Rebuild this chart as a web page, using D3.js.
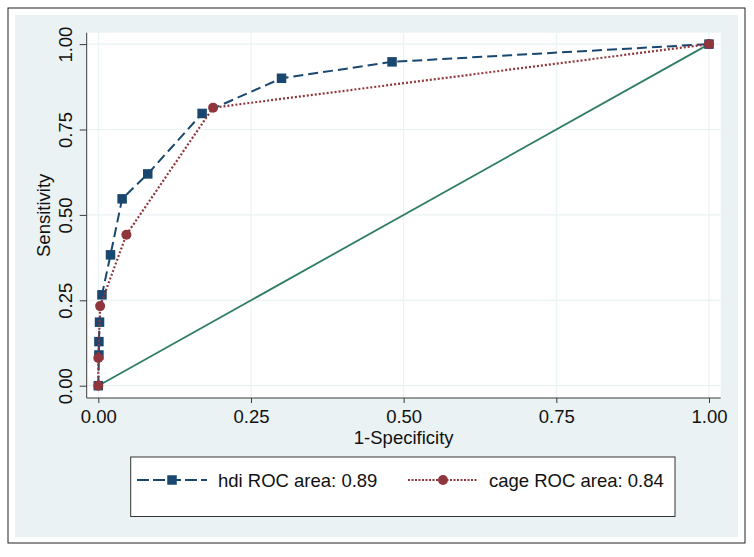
<!DOCTYPE html>
<html>
<head>
<meta charset="utf-8">
<script src="https://cdn.jsdelivr.net/npm/d3@7"></script>
<style>
  html, body { margin: 0; padding: 0; background: #ffffff; }
  svg { display: block; font-family: "Liberation Sans", Arial, sans-serif; }
</style>
</head>
<body>
<svg id="chart" width="754" height="557"></svg>
<script>
// ---- data ----
const tickValues = [0, 0.25, 0.5, 0.75, 1];
const hdiFpr  = [0, 0.001, 0.001, 0.002, 0.006, 0.020, 0.039, 0.081, 0.170, 0.300, 0.481, 1];
const hdiSens = [0, 0.090, 0.129, 0.186, 0.266, 0.383, 0.547, 0.620, 0.797, 0.900, 0.948, 1];
const cageFpr  = [0, 0, 0.003, 0.046, 0.188, 1];
const cageSens = [0, 0.081, 0.233, 0.442, 0.814, 1];
const refLine = [0, 1];
const legendLabels = ["hdi ROC area: 0.89", "cage ROC area: 0.84"];
const xTitle = "1-Specificity";
const yTitle = "Sensitivity";

// ---- style ----
const FS = 18.5;
const C = { bg: "#eaf2f3", navy: "#1a476f", maroon: "#90353b", green: "#2e7d64", axis: "#3a3a3a", grid: "#eaf2f3" };
const plot = { left: 86.7, right: 720.7, top: 32.7, bottom: 398 };

const svg = d3.select("#chart");

// outer frame
svg.append("rect").attr("x", 8).attr("y", 8).attr("width", 737).attr("height", 535)
  .attr("fill", "#ffffff").attr("stroke", "#222").attr("stroke-width", 1);
svg.append("rect").attr("x", 15).attr("y", 15).attr("width", 723).attr("height", 522)
  .attr("fill", C.bg);

// plot region
svg.append("rect").attr("x", plot.left).attr("y", plot.top)
  .attr("width", plot.right - plot.left).attr("height", plot.bottom - plot.top)
  .attr("fill", "#ffffff");

const x = d3.scaleLinear().domain([0, 1]).range([98.3, 709]);
const y = d3.scaleLinear().domain([0, 1]).range([385.7, 44.1]);

// gridlines
const g = svg.append("g");
g.selectAll("line.gx").data(tickValues).join("line")
  .attr("x1", d => x(d)).attr("x2", d => x(d))
  .attr("y1", plot.top).attr("y2", plot.bottom)
  .attr("stroke", C.grid).attr("stroke-width", 1.2);
g.selectAll("line.gy").data(tickValues).join("line")
  .attr("y1", d => y(d)).attr("y2", d => y(d))
  .attr("x1", plot.left).attr("x2", plot.right)
  .attr("stroke", C.grid).attr("stroke-width", 1.2);

// axes
const fmt = d3.format(".2f");
const xAxis = svg.append("g").attr("transform", `translate(0,${plot.bottom})`)
  .call(d3.axisBottom(x).tickValues(tickValues).tickFormat(fmt).tickSize(5).tickPadding(4));
xAxis.select(".domain").remove();
xAxis.append("line").attr("x1", plot.left).attr("x2", plot.right).attr("y1", 0).attr("y2", 0)
  .attr("stroke", C.axis).attr("stroke-width", 1);
xAxis.selectAll(".tick line").attr("stroke", C.axis);
xAxis.selectAll(".tick text").attr("font-size", FS).attr("fill", "#111")
  .attr("font-family", "Liberation Sans, Arial, sans-serif").attr("dy", null).attr("y", 24.5);

const yAxis = svg.append("g").attr("transform", `translate(${plot.left},0)`)
  .call(d3.axisLeft(y).tickValues(tickValues).tickFormat(fmt).tickSize(7));
yAxis.select(".domain").remove();
yAxis.append("line").attr("x1", 0).attr("x2", 0).attr("y1", plot.top).attr("y2", plot.bottom)
  .attr("stroke", C.axis).attr("stroke-width", 1);
yAxis.selectAll(".tick line").attr("stroke", C.axis);
yAxis.selectAll(".tick text")
  .attr("font-size", FS).attr("fill", "#111")
  .attr("font-family", "Liberation Sans, Arial, sans-serif")
  .attr("x", null).attr("dy", null)
  .attr("text-anchor", "middle")
  .attr("transform", "translate(-14.5,0) rotate(-90)");

// axis titles
svg.append("text").attr("x", (plot.left + plot.right) / 2).attr("y", 443.5)
  .attr("text-anchor", "middle").attr("font-size", FS).attr("fill", "#111").text(xTitle);
svg.append("text").attr("transform", `translate(49.5,${(plot.top + plot.bottom) / 2}) rotate(-90)`)
  .attr("text-anchor", "middle").attr("font-size", FS).attr("fill", "#111").text(yTitle);

// reference diagonal
svg.append("line")
  .attr("x1", x(refLine[0])).attr("y1", y(refLine[0]))
  .attr("x2", x(refLine[1])).attr("y2", y(refLine[1]))
  .attr("stroke", C.green).attr("stroke-width", 1.8);

const line = d3.line().x(d => x(d[0])).y(d => y(d[1]));
const hdi = hdiFpr.map((v, i) => [v, hdiSens[i]]);
const cage = cageFpr.map((v, i) => [v, cageSens[i]]);

// hdi series
svg.append("path").datum(hdi).attr("d", line)
  .attr("fill", "none").attr("stroke", C.navy).attr("stroke-width", 2)
  .attr("stroke-dasharray", "10,5");
const sq = 9.5;
svg.append("g").selectAll("rect").data(hdi).join("rect")
  .attr("x", d => x(d[0]) - sq / 2).attr("y", d => y(d[1]) - sq / 2)
  .attr("width", sq).attr("height", sq).attr("fill", C.navy);

// cage series
svg.append("path").datum(cage).attr("d", line)
  .attr("fill", "none").attr("stroke", C.maroon).attr("stroke-width", 2.2)
  .attr("stroke-dasharray", "2,2");
svg.append("g").selectAll("circle").data(cage).join("circle")
  .attr("cx", d => x(d[0])).attr("cy", d => y(d[1])).attr("r", 5)
  .attr("fill", C.maroon);

// legend
const lg = svg.append("g");
lg.append("rect").attr("x", 130.7).attr("y", 457).attr("width", 544.3).attr("height", 59.5)
  .attr("fill", "#ffffff").attr("stroke", "#333").attr("stroke-width", 1);
const ly = 480;
lg.append("line").attr("x1", 137).attr("x2", 207).attr("y1", ly).attr("y2", ly)
  .attr("stroke", C.navy).attr("stroke-width", 2).attr("stroke-dasharray", "12,4");
lg.append("rect").attr("x", 172 - sq / 2).attr("y", ly - sq / 2).attr("width", sq).attr("height", sq)
  .attr("fill", C.navy);
lg.append("text").attr("x", 218).attr("y", ly + 6.5).attr("font-size", FS).attr("fill", "#111")
  .text(legendLabels[0]);
lg.append("line").attr("x1", 408).attr("x2", 478).attr("y1", ly).attr("y2", ly)
  .attr("stroke", C.maroon).attr("stroke-width", 2).attr("stroke-dasharray", "2,1.5");
lg.append("circle").attr("cx", 443).attr("cy", ly).attr("r", 5).attr("fill", C.maroon);
lg.append("text").attr("x", 489).attr("y", ly + 6.5).attr("font-size", FS).attr("fill", "#111")
  .text(legendLabels[1]);
</script>
</body>
</html>
